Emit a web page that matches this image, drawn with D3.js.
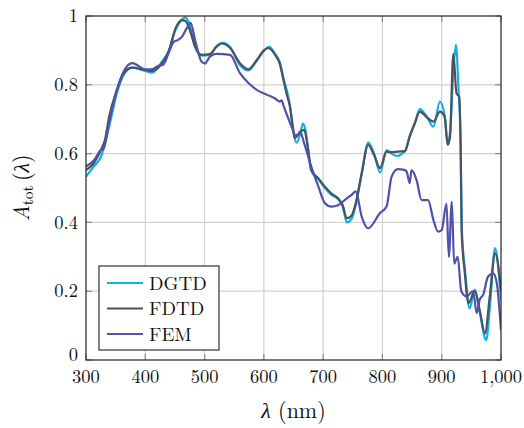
<!DOCTYPE html>
<html><head><meta charset="utf-8">
<script src="https://cdn.jsdelivr.net/npm/d3@7"></script>
<style>body{margin:0;background:#fff}svg{display:block}</style>
</head><body><svg id="c" width="524" height="428"></svg>
<script>
const FONT="Latin Modern Roman";
const xTicks=[300,400,500,600,700,800,900,1000];
const yTicks=[0,0.2,0.4,0.6,0.8,1];
const seriesNames=["DGTD","FDTD","FEM"];
const seriesColors=["#12b0e2","#4a525b","#5151a9"];

const dgtdX=[300,313,325,339,352,364,378,400,411,428,440,451,462,467,475,484,495,509,520,530,543,560,574,588,600,609,619,627,633,644,649,655,661,666,670,680,692,703,714,725,733,740,748,755,765,776,786,796,807,815,826,833,838,846,855,863,874,886,897,905,910,914,920,924,928,932,934,940,947,956,964,975,982,990,1000];
const dgtdY=[0.533,0.562,0.59,0.678,0.775,0.83,0.85,0.84,0.835,0.867,0.90,0.96,0.99,0.996,0.975,0.91,0.885,0.887,0.912,0.922,0.91,0.857,0.842,0.87,0.898,0.91,0.89,0.865,0.82,0.74,0.67,0.632,0.655,0.688,0.67,0.55,0.525,0.50,0.48,0.468,0.445,0.40,0.41,0.45,0.54,0.632,0.60,0.545,0.61,0.60,0.593,0.60,0.607,0.65,0.69,0.729,0.71,0.678,0.751,0.71,0.63,0.66,0.85,0.916,0.80,0.62,0.38,0.25,0.15,0.205,0.14,0.058,0.17,0.325,0.175];

const fdtdX=[300,313,325,332,339,352,364,378,400,411,428,440,451,462,468,475,484,495,509,520,529,543,560,574,588,600,607,619,627,633,638,644,649,652,658,663,668,674,680,692,703,714,725,733,740,748,755,765,776,786,796,807,815,826,838,846,855,863,874,886,897,905,910,914,919.5,925,929.5,932,933.5,939,945,956,964,973,981,990,1000];
const fdtdY=[0.552,0.572,0.61,0.64,0.707,0.785,0.834,0.85,0.843,0.84,0.862,0.90,0.964,0.988,0.985,0.96,0.911,0.887,0.889,0.91,0.92,0.907,0.862,0.845,0.872,0.90,0.907,0.887,0.86,0.814,0.776,0.736,0.678,0.645,0.655,0.665,0.669,0.62,0.552,0.528,0.504,0.484,0.47,0.45,0.412,0.42,0.456,0.543,0.625,0.595,0.558,0.606,0.604,0.606,0.607,0.65,0.69,0.722,0.707,0.693,0.722,0.707,0.625,0.649,0.89,0.775,0.765,0.61,0.38,0.252,0.165,0.20,0.145,0.077,0.184,0.31,0.203];

const femX=[300,313,325,330,339,352,364,378,400,411,422,430,440,448,455,462,470,476.5,484,495,500.6,509,520,543,560,574,588,607,619,627,630,633,644,649,652,657,661,668,680,692,703,714,725,740,748,755,765,776,796,807,815.5,826,838,841,846,849,857.6,866,877,886,894,900,908,912,917,921,927,933,942,953,959,964,970,978,987,993,1000];
const femY=[0.562,0.58,0.61,0.615,0.69,0.785,0.84,0.863,0.845,0.845,0.855,0.858,0.895,0.925,0.93,0.94,0.965,0.98,0.93,0.867,0.862,0.882,0.89,0.887,0.833,0.805,0.785,0.77,0.76,0.751,0.755,0.74,0.69,0.668,0.655,0.654,0.664,0.63,0.562,0.504,0.456,0.446,0.45,0.47,0.48,0.49,0.417,0.383,0.427,0.446,0.533,0.555,0.552,0.547,0.514,0.552,0.523,0.465,0.465,0.407,0.373,0.378,0.455,0.30,0.46,0.28,0.30,0.20,0.185,0.20,0.136,0.175,0.19,0.242,0.252,0.223,0.087];

const seriesX=[dgtdX,fdtdX,femX];
const seriesY=[dgtdY,fdtdY,femY];

const svg=d3.select("#c");
const L=86,R=501,T=16,B=360;
const x=d3.scaleLinear().domain([300,1000]).range([L,R]);
const y=d3.scaleLinear().domain([0,1]).range([B,T]);

// grid
const g=svg.append("g");
g.selectAll(".gx").data(xTicks.slice(1,-1)).enter().append("line")
 .attr("x1",d=>x(d)).attr("x2",d=>x(d)).attr("y1",T).attr("y2",B)
 .attr("stroke","#d2d2d2").attr("stroke-width",1.2);
g.selectAll(".gy").data(yTicks.slice(1,-1)).enter().append("line")
 .attr("y1",d=>y(d)).attr("y2",d=>y(d)).attr("x1",L).attr("x2",R)
 .attr("stroke","#d2d2d2").attr("stroke-width",1.2);

// ticks inside on all sides
const tk=svg.append("g").attr("stroke","#8a8a8a").attr("stroke-width",1.2);
xTicks.forEach(d=>{tk.append("line").attr("x1",x(d)).attr("x2",x(d)).attr("y1",B).attr("y2",B-6);
 tk.append("line").attr("x1",x(d)).attr("x2",x(d)).attr("y1",T).attr("y2",T+6);});
yTicks.forEach(d=>{tk.append("line").attr("y1",y(d)).attr("y2",y(d)).attr("x1",L).attr("x2",L+6);
 tk.append("line").attr("y1",y(d)).attr("y2",y(d)).attr("x1",R).attr("x2",R-6);});

// lines
svg.append("clipPath").attr("id","cp").append("rect").attr("x",L).attr("y",T-3).attr("width",R-L).attr("height",B-T+3);
const line=d3.line().curve(d3.curveMonotoneX);
seriesNames.forEach((n,i)=>{
  const pts=seriesX[i].map((v,j)=>[x(v),y(seriesY[i][j])]);
  svg.append("path").attr("d",line(pts)).attr("fill","none")
   .attr("stroke",seriesColors[i]).attr("stroke-width",2.2).attr("stroke-linejoin","round")
   .attr("clip-path","url(#cp)");
});

// frame
svg.append("rect").attr("x",L).attr("y",T).attr("width",R-L).attr("height",B-T)
 .attr("fill","none").attr("stroke","#222").attr("stroke-width",1.2);

// tick labels
const fmt=d3.format(",");
svg.selectAll(".xl").data(xTicks).enter().append("text")
 .attr("font-family",FONT)
 .attr("x",d=>x(d)).attr("y",383).attr("text-anchor","middle").attr("font-size",18.5).attr("fill","#111")
 .text(d=>fmt(d));
svg.selectAll(".yl").data(yTicks).enter().append("text")
 .attr("font-family",FONT)
 .attr("x",78).attr("y",d=>y(d)-(d===0?5:0)).attr("dy","0.33em").attr("text-anchor","end").attr("font-size",18.5).attr("fill","#111")
 .text(d=>d===0||d===1?String(d):d.toFixed(1));

// axis titles
const xt=svg.append("text").attr("font-family",FONT).attr("x",(L+R)/2).attr("y",418).attr("text-anchor","middle").attr("font-size",22).attr("fill","#111");
xt.append("tspan").attr("font-style","italic").text("λ");
xt.append("tspan").text(" (nm)");
const yt=svg.append("text").attr("font-family",FONT).attr("transform",`translate(29,${(T+B)/2}) rotate(-90)`).attr("text-anchor","middle").attr("font-size",22).attr("fill","#111");
yt.append("tspan").attr("font-style","italic").text("A");
yt.append("tspan").attr("font-size",15.5).attr("dy",4).text("tot");
yt.append("tspan").attr("dy",-4).text("\u2009(");
yt.append("tspan").attr("font-style","italic").text("λ");
yt.append("tspan").text(")");

// legend
const lg=svg.append("g");
lg.append("rect").attr("x",99).attr("y",266).attr("width",120).attr("height",84)
 .attr("fill","#fff").attr("stroke","#333").attr("stroke-width",1.2);
seriesNames.forEach((n,i)=>{
  const yy=283+i*25.5;
  lg.append("line").attr("x1",107).attr("x2",143).attr("y1",yy).attr("y2",yy)
   .attr("stroke",seriesColors[i]).attr("stroke-width",2.2);
  lg.append("text").attr("font-family",FONT).attr("x",149).attr("y",yy).attr("dy","0.35em").attr("font-size",19).attr("fill","#111").text(n);
});
</script></body></html>
